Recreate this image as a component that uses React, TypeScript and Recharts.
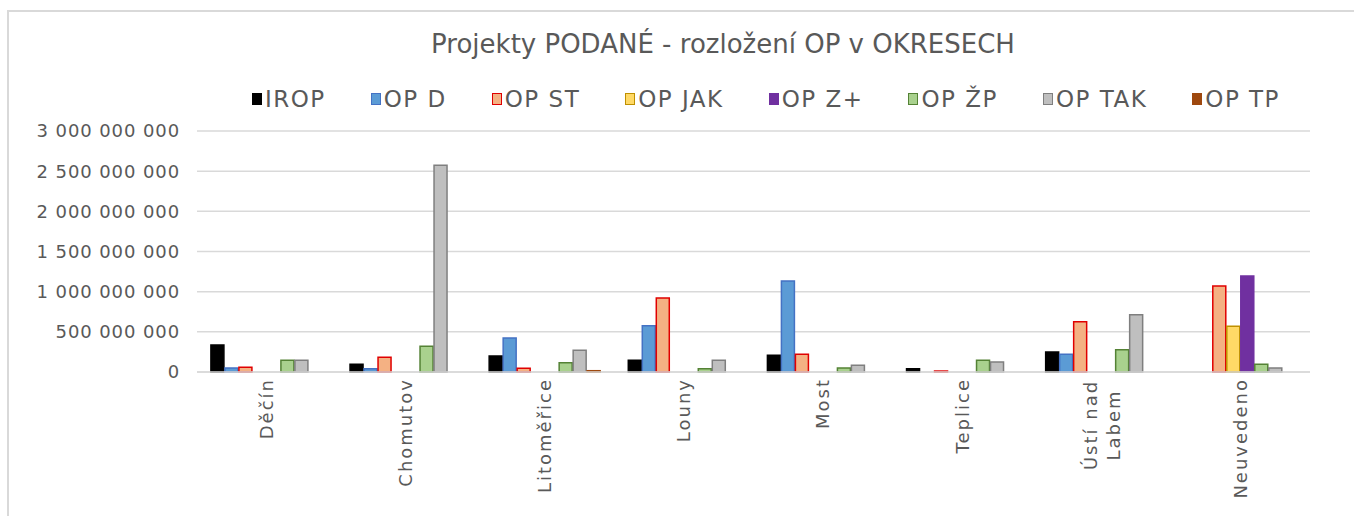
import { Bar, BarChart, CartesianGrid, XAxis, YAxis } from "recharts";

const categories = ["Děčín", "Chomutov", "Litoměřice", "Louny", "Most", "Teplice", "Ústí nad Labem", "Neuvedeno"];

// values in CZK
const irop = [336e6, 96e6, 199e6, 145e6, 207e6, 41e6, 249e6, 0];
const opD = [50e6, 41e6, 423e6, 576e6, 1132e6, 0, 220e6, 0];
const opST = [58e6, 183e6, 46e6, 920e6, 220e6, 12e6, 626e6, 1070e6];
const opJAK = [0, 0, 0, 0, 0, 0, 0, 568e6];
const opZ = [0, 0, 0, 0, 0, 0, 0, 1194e6];
const opZP = [145e6, 320e6, 116e6, 41e6, 50e6, 145e6, 277e6, 96e6];
const opTAK = [145e6, 2575e6, 270e6, 145e6, 83e6, 124e6, 713e6, 50e6];
const opTP = [0, 0, 16e6, 0, 0, 0, 0, 0];

const yTicks = [0, 500e6, 1000e6, 1500e6, 2000e6, 2500e6, 3000e6];

const series = [
    { key: "IROP", values: irop, fill: "#000000", stroke: "#000000" },
    { key: "OP D", values: opD, fill: "#5B9BD5", stroke: "#4472C4" },
    { key: "OP ST", values: opST, fill: "#F4B183", stroke: "#E00000" },
    { key: "OP JAK", values: opJAK, fill: "#FFD966", stroke: "#BF9000" },
    { key: "OP Z+", values: opZ, fill: "#7030A0", stroke: "#7030A0" },
    { key: "OP ŽP", values: opZP, fill: "#A9D18E", stroke: "#548235" },
    { key: "OP TAK", values: opTAK, fill: "#BFBFBF", stroke: "#7F7F7F" },
    { key: "OP TP", values: opTP, fill: "#9E480E", stroke: "#9E480E" },
];

const data = categories.map((name, i) => {
    const row: Record<string, string | number> = { name };
    for (const s of series) row[s.key] = s.values[i];
    return row;
});

const FONT = "'DejaVu Sans', sans-serif";
const TEXT = "#595959";

const fmt = (v: number) => String(v).replace(/\B(?=(\d{3})+(?!\d))/g, " ");

function CategoryTick({ x, y, payload }: any) {
    const label: string = payload.value;
    const common = { fill: TEXT, fontSize: 18, fontFamily: FONT, letterSpacing: 2 };
    if (label === "Ústí nad Labem") {
        // two lines, centred on each other like Excel does
        return (
            <g transform={`translate(${x},${y + 47}) rotate(-90)`}>
                <text textAnchor="middle" dy={-4} {...common}>
                    Ústí nad
                </text>
                <text textAnchor="middle" dy={19} {...common}>
                    Labem
                </text>
            </g>
        );
    }
    return (
        <g transform={`translate(${x},${y}) rotate(-90)`}>
            <text textAnchor="end" dy="0.35em" {...common}>
                {label}
            </text>
        </g>
    );
}

export default function App() {
    return (
        <div
            style={{
                position: "absolute",
                left: 0,
                top: 0,
                width: 1354,
                height: 516,
                background: "#fff",
                fontFamily: FONT,
                overflow: "hidden",
            }}
        >
            <div
                style={{
                    position: "absolute",
                    left: 7,
                    top: 10,
                    width: 1400,
                    height: 520,
                    borderLeft: "2px solid #D9D9D9",
                    borderTop: "2px solid #D9D9D9",
                }}
            />
            <div
                style={{
                    position: "absolute",
                    left: 0,
                    top: 29,
                    width: 1446,
                    textAlign: "center",
                    fontSize: 26,
                    color: TEXT,
                }}
            >
                Projekty PODANÉ - rozložení OP v OKRESECH
            </div>
            <div
                style={{
                    position: "absolute",
                    left: 252,
                    top: 86,
                    display: "flex",
                    alignItems: "center",
                    gap: 45,
                    fontSize: 23,
                    letterSpacing: 1.5,
                    color: TEXT,
                }}
            >
                {series.map((s) => (
                    <div key={s.key} style={{ display: "flex", alignItems: "center" }}>
                        <span
                            style={{
                                display: "inline-block",
                                width: 8,
                                height: 10,
                                background: s.fill,
                                border: `1px solid ${s.stroke}`,
                                marginRight: 3,
                            }}
                        />
                        <span>{s.key}</span>
                    </div>
                ))}
            </div>
            <div style={{ position: "absolute", left: 0, top: 0 }}>
                <BarChart
                    width={1354}
                    height={516}
                    data={data}
                    margin={{ top: 131, right: 44, bottom: 0, left: 0 }}
                    barCategoryGap="10%"
                    barGap={1}
                >
                    <CartesianGrid vertical={false} stroke="#D9D9D9" strokeWidth={1.5} />
                    <XAxis
                        dataKey="name"
                        height={144}
                        interval={0}
                        tickLine={false}
                        axisLine={{ stroke: "#D9D9D9", strokeWidth: 1.5 }}
                        tick={<CategoryTick />}
                        tickMargin={0}
                    />
                    <YAxis
                        width={197}
                        domain={[0, 3000e6]}
                        ticks={yTicks}
                        tickFormatter={fmt}
                        axisLine={false}
                        tickLine={false}
                        tickMargin={11}
                        tick={{ fill: TEXT, fontSize: 18, fontFamily: FONT, letterSpacing: 0.9 }}
                    />
                    {series.map((s) => (
                        <Bar
                            key={s.key}
                            dataKey={s.key}
                            fill={s.fill}
                            stroke={s.stroke}
                            strokeWidth={1.5}
                            isAnimationActive={false}
                        />
                    ))}
                </BarChart>
            </div>
        </div>
    );
}
